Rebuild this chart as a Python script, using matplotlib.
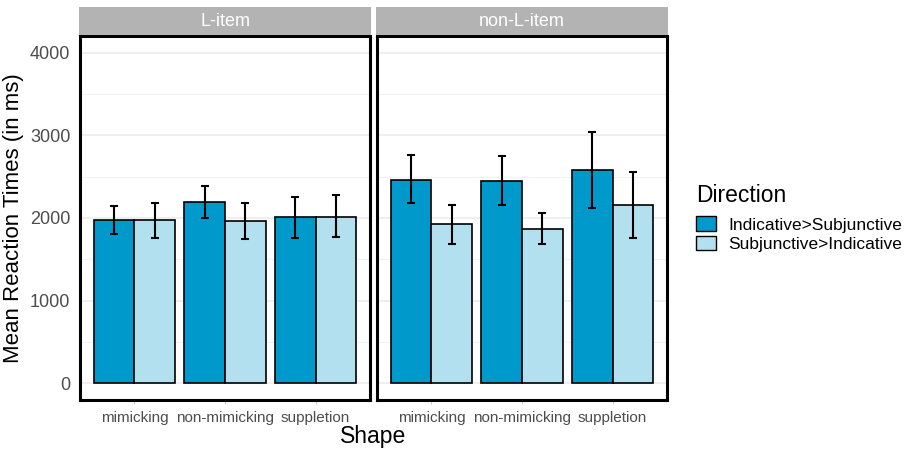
import numpy as np
import matplotlib.pyplot as plt
from matplotlib.patches import Patch

panels = ['L-item', 'non-L-item']
shapes = ['mimicking', 'non-mimicking', 'suppletion']
directions = ['Indicative>Subjunctive', 'Subjunctive>Indicative']

# mean RT per shape, one list per direction
l_ind = [1970, 2196, 2014]
l_sub = [1974, 1962, 2014]
nl_ind = [2465, 2453, 2582]
nl_sub = [1925, 1869, 2155]

# error bar bounds
l_ind_lo = [1809, 2002, 1764]
l_ind_hi = [2143, 2385, 2256]
l_sub_lo = [1764, 1752, 1776]
l_sub_hi = [2183, 2179, 2272]
nl_ind_lo = [2179, 2155, 2119]
nl_ind_hi = [2767, 2755, 3041]
nl_sub_lo = [1684, 1684, 1764]
nl_sub_hi = [2159, 2066, 2558]

data = {
    'L-item': [(l_ind, l_ind_lo, l_ind_hi), (l_sub, l_sub_lo, l_sub_hi)],
    'non-L-item': [(nl_ind, nl_ind_lo, nl_ind_hi), (nl_sub, nl_sub_lo, nl_sub_hi)],
}
colors = ['#0099CC', '#B3E0EF']

W, H = 907, 449
fig = plt.figure(figsize=(W / 100, H / 100), dpi=100)
plt.rcParams['font.family'] = ['Liberation Sans', 'DejaVu Sans']

lefts = [80, 377]
pw = 290
top, bottom = 36, 400
strip_top = 8

x = np.arange(1, 4)
bw = 0.45
for i, name in enumerate(panels):
    ax = fig.add_axes([lefts[i] / W, (H - bottom) / H, pw / W, (bottom - top) / H])
    ax.set_xlim(0.4, 3.6)
    ax.set_ylim(-200, 4200)
    for v in range(0, 4001, 1000):
        ax.axhline(v, color='#EBEBEB', lw=1.1, zorder=0)
    for v in range(500, 4001, 1000):
        ax.axhline(v, color='#F2F2F2', lw=0.8, zorder=0)
    for j, (vals, lo, hi) in enumerate(data[name]):
        xs = x + (j - 0.5) * bw
        ax.bar(xs, vals, width=bw, color=colors[j], edgecolor='black', lw=1.2, zorder=2)
        vals = np.array(vals)
        ax.errorbar(xs, vals, yerr=[vals - np.array(lo), np.array(hi) - vals],
                    fmt='none', ecolor='black', elinewidth=1.5, capsize=2.7,
                    capthick=1.5, zorder=3)
    for s in ax.spines.values():
        s.set_linewidth(2.2)
        s.set_color('black')
    ax.set_xticks(x)
    ax.set_xticklabels(shapes, fontsize=11, color='#4D4D4D')
    ax.tick_params(axis='x', length=3, color='#CCCCCC', pad=5)
    ax.set_yticks(range(0, 4001, 1000))
    if i == 0:
        ax.set_yticklabels([str(v) for v in range(0, 4001, 1000)], fontsize=13, color='#4D4D4D')
        ax.tick_params(axis='y', length=0, pad=7)
        ax.set_ylabel('Mean Reaction Times (in ms)', fontsize=16, labelpad=4)
    else:
        ax.set_yticklabels([])
        ax.tick_params(axis='y', length=0)

    # facet strip
    sax = fig.add_axes([(lefts[i] - 1) / W, (H - top + 1) / H, (pw + 2) / W, (top - strip_top) / H])
    sax.set_facecolor('#B3B3B3')
    sax.set_xticks([])
    sax.set_yticks([])
    for s in sax.spines.values():
        s.set_visible(False)
    sax.text(0.5, 0.48, name, ha='center', va='center', color='white', fontsize=13,
             transform=sax.transAxes)

fig.text((80 + 667) / 2 / W, 1 - 437 / H, 'Shape', ha='center', va='center', fontsize=16.5)

handles = [Patch(facecolor=c, edgecolor='black', lw=1) for c in colors]
leg = fig.legend(handles, directions, title='Direction', loc='upper left',
                 bbox_to_anchor=(687 / W, 1 - 175 / H), frameon=False, borderpad=0,
                 fontsize=12.5, title_fontsize=16.5, handlelength=1.15,
                 handleheight=0.9, handletextpad=0.75, labelspacing=0.2)
leg._legend_box.align = 'left'
leg._legend_box.sep = 7

fig.savefig('out.png', dpi=100)
